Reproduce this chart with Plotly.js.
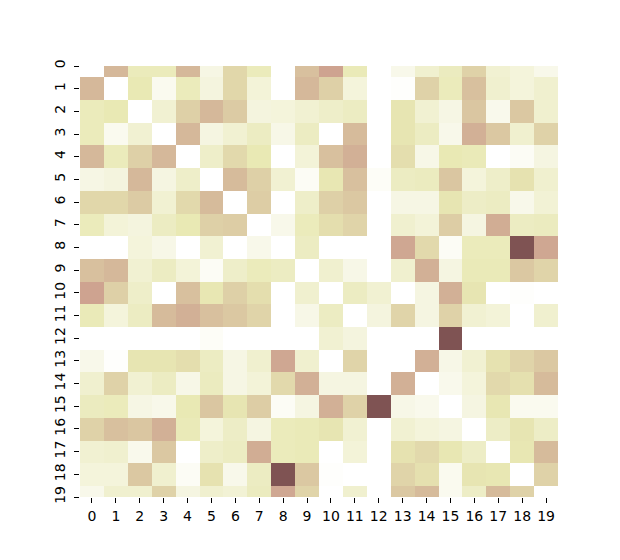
<!DOCTYPE html>
<html>
<head>
<meta charset="utf-8">
<script src="https://cdn.plot.ly/plotly-3.0.1.min.js"></script>
<style>
  body { margin: 0; background: #fff; }
  #heat { width: 620px; height: 560px; }
</style>
</head>
<body>
<div id="heat"></div>
<script>
// row / column labels
var rowLabels = ["0","1","2","3","4","5","6","7","8","9","10","11","12","13","14","15","16","17","18","19"];
var colLabels = ["0","1","2","3","4","5","6","7","8","9","10","11","12","13","14","15","16","17","18","19"];

// cell values (symmetric matrix, 0..1)
var row0  = [0, .45, .23, .23, .45, .10, .33, .23, 0, .42, .52, .24, 0, .08, .17, .22, .35, .16, .13, .08];
var row1  = [.45, 0, .25, .06, .23, .12, .33, .14, 0, .45, .36, .13, 0, .01, .35, .23, .42, .17, .13, .17];
var row2  = [.23, .25, 0, .16, .36, .45, .38, .12, .13, .16, .19, .21, 0, .27, .16, .10, .40, .07, .39, .17];
var row3  = [.23, .06, .16, 0, .45, .11, .16, .21, .09, .21, 0, .44, 0, .27, .21, .08, .48, .39, .17, .35];
var row4  = [.45, .23, .36, .45, 0, .19, .32, .25, 0, .14, .42, .48, 0, .30, .09, .25, .24, 0, .04, .11];
var row5  = [.10, .12, .45, .11, .19, 0, .44, .36, .16, .04, .26, .42, .03, .21, .22, .40, .13, .19, .28, .17];
var row6  = [.33, .33, .38, .16, .32, .44, 0, .37, 0, .19, .36, .39, 0, .10, .10, .27, .20, .21, .08, .15];
var row7  = [.23, .14, .12, .21, .25, .36, .37, 0, .08, .23, .30, .34, 0, .17, .14, .37, .11, .49, .21, .22];
var row8  = [0, 0, .13, .09, 0, .16, 0, .08, 0, .21, 0, 0, 0, .51, .32, .04, .23, .23, .84, .51];
var row9  = [.42, .45, .16, .21, .14, .04, .19, .23, .21, 0, .17, .09, 0, .17, .48, .11, .24, .24, .39, .34];
var row10 = [.52, .36, .19, 0, .42, .26, .36, .30, 0, .17, 0, .21, .16, 0, .11, .48, .27, 0, .01, 0];
var row11 = [.24, .13, .21, .44, .48, .42, .39, .34, 0, .09, .21, 0, .12, .34, .11, .35, .16, .14, 0, .17];
var row12 = [0, 0, 0, 0, 0, .03, 0, 0, 0, 0, .16, .12, 0, 0, 0, .84, 0, 0, 0, 0];
var row13 = [.08, .01, .27, .27, .30, .21, .10, .17, .51, .17, 0, .34, 0, 0, .48, .09, .16, .28, .34, .39];
var row14 = [.17, .35, .16, .21, .09, .22, .10, .14, .32, .48, .11, .11, 0, .48, 0, .07, .13, .32, .29, .44];
var row15 = [.22, .23, .10, .08, .25, .40, .27, .37, .04, .11, .48, .35, .84, .09, .07, 0, .11, .26, .06, .06];
var row16 = [.35, .42, .40, .48, .24, .13, .20, .11, .23, .24, .27, .16, 0, .16, .13, .11, 0, .20, .27, .20];
var row17 = [.16, .17, .07, .39, 0, .19, .21, .49, .23, .24, 0, .14, 0, .28, .32, .26, .20, 0, .26, .44];
var row18 = [.13, .13, .39, .17, .04, .28, .08, .21, .84, .39, .01, 0, 0, .34, .29, .06, .27, .26, 0, .35];
var row19 = [.08, .17, .17, .35, .11, .17, .15, .22, .51, .34, 0, .17, 0, .39, .44, .06, .20, .44, .35, 0];

var z = [row0, row1, row2, row3, row4, row5, row6, row7, row8, row9,
         row10, row11, row12, row13, row14, row15, row16, row17, row18, row19];

var idx = rowLabels.map((s, i) => i);

// reversed "pink" colormap (white -> beige -> dusty pink -> dark brown)
var pinkR = [
  [0, "#ffffff"], [0.05, "#fbfbf2"], [0.1, "#f6f6e4"], [0.15, "#f2f2d5"],
  [0.2, "#ededc6"], [0.25, "#e9e9b4"], [0.3, "#e4deae"], [0.35, "#dfd2a8"],
  [0.4, "#dac6a1"], [0.45, "#d5b89a"], [0.5, "#d0aa93"], [0.6, "#c68984"],
  [0.7, "#ae7272"], [0.8, "#8e5d5d"], [0.85, "#7b5151"], [0.9, "#654242"],
  [0.95, "#472f2f"], [1, "#1e0000"]
];

var trace = {
  type: "heatmap",
  x: idx,
  y: idx,
  z: z,
  zmin: 0,
  zmax: 1,
  colorscale: pinkR,
  showscale: false,
  hoverinfo: "x+y+z"
};

var tickFont = {family: "DejaVu Sans, sans-serif", size: 14, color: "#000"};

var layout = {
  width: 620,
  height: 560,
  margin: {l: 80, r: 62, t: 66, b: 63},
  paper_bgcolor: "#fff",
  plot_bgcolor: "#fff",
  font: tickFont,
  xaxis: {
    range: [-0.5, 19.5],
    tickvals: idx,
    ticktext: colLabels,
    tickangle: 0,
    ticks: "outside",
    ticklen: 5,
    tickwidth: 1,
    tickcolor: "#000",
    ticklabelstandoff: 1,
    showgrid: false,
    zeroline: false,
    showline: false,
    tickfont: tickFont
  },
  yaxis: {
    range: [19, 0],
    tickvals: idx,
    ticktext: rowLabels,
    tickangle: -90,
    ticks: "outside",
    ticklen: 5,
    tickwidth: 1,
    tickcolor: "#000",
    ticklabelstandoff: 3,
    showgrid: false,
    zeroline: false,
    showline: false,
    tickfont: tickFont
  }
};

Plotly.newPlot("heat", [trace], layout, {displayModeBar: false, staticPlot: true});
</script>
</body>
</html>
